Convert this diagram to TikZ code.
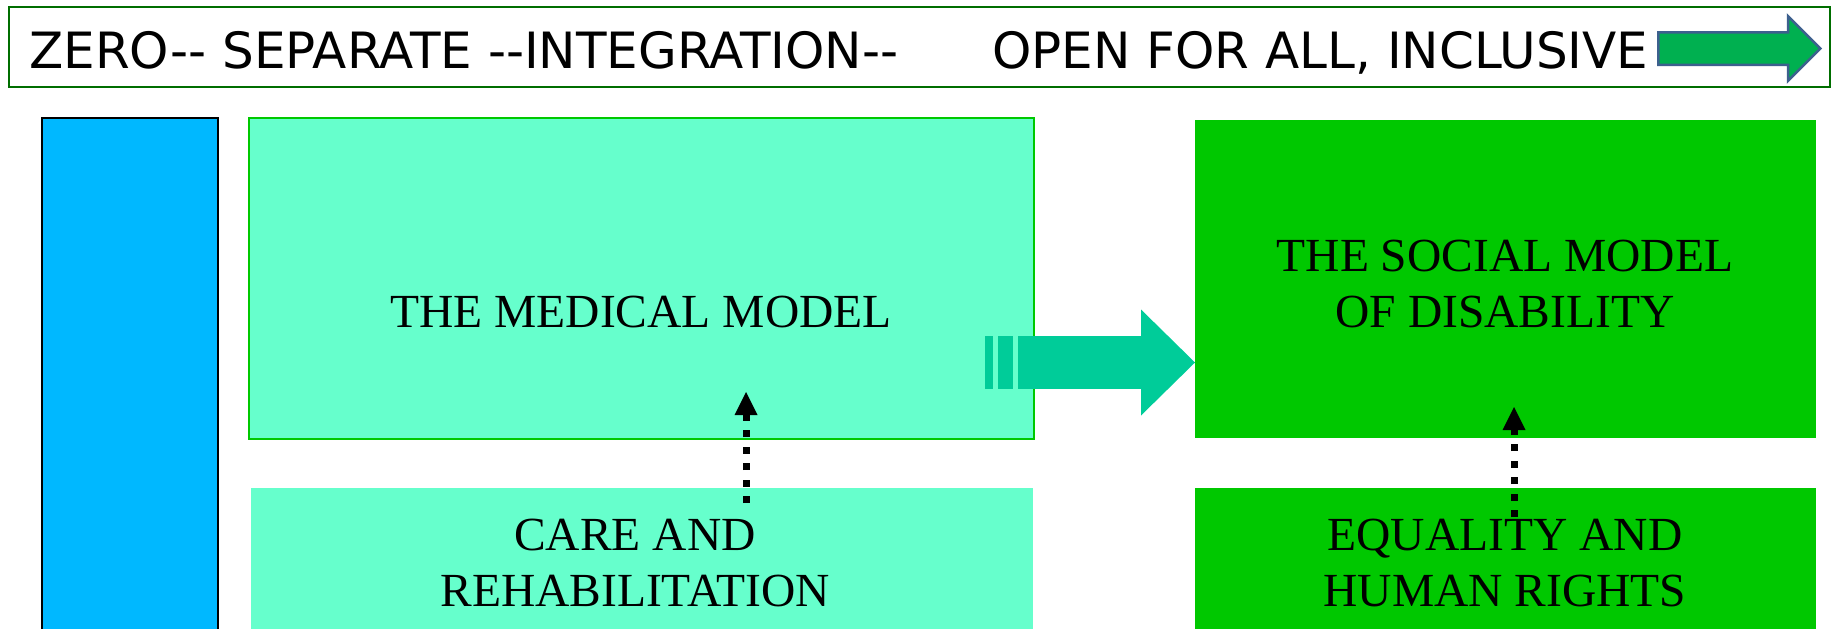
\documentclass[tikz,border=0pt]{standalone}
\usepackage{fontspec}
\setmainfont{Liberation Serif}
\newfontfamily\bannerfont{DejaVu Sans}
\usepackage{tikz}
\usetikzlibrary{arrows.meta,shapes.arrows}
\definecolor{bannergreen}{RGB}{0,110,0}
\definecolor{arrowgreen}{RGB}{0,176,80}
\definecolor{arrowblue}{RGB}{61,96,142}
\definecolor{barblue}{RGB}{0,184,255}
\definecolor{medgreen}{RGB}{102,255,204}
\definecolor{medborder}{RGB}{0,200,0}
\definecolor{socgreen}{RGB}{0,200,0}
\definecolor{flowteal}{RGB}{0,204,153}

\begin{document}
\begin{tikzpicture}[x=1pt, y=-1pt,
  panel/.style={rectangle, inner sep=0pt, outer sep=0pt, anchor=north west},
  model/.style={font=\fontsize{47.5pt}{56pt}\selectfont, align=center, inner sep=0pt, anchor=base},
  bannertext/.style={font=\bannerfont\fontsize{50pt}{60pt}\selectfont, inner sep=0pt, anchor=base west},
  flow/.style={draw=flowteal, line width=53pt, -{Triangle[length=54pt, width=106pt, line width=0pt]}},
  dotarrow/.style={line width=7pt, dash pattern=on 7pt off 9.5pt, -{Triangle[length=23pt, width=23pt, line width=0pt]}}
]
\useasboundingbox (0,0) rectangle (1834,629);

% banner across the top
\node[panel, draw=bannergreen, line width=2.5pt, fill=white, minimum width=1821pt, minimum height=80pt] (banner) at (9,7) {};
\node[bannertext] (stages) at (29,68) {ZERO-{}- SEPARATE -{}-INTEGRATION-{}-};
\node[bannertext] (inclusive) at (992,68) {OPEN FOR ALL, INCLUSIVE};
\node[single arrow, fill=arrowgreen, draw=arrowblue, line width=2.5pt, anchor=west,
  minimum height=162pt, minimum width=62pt, inner sep=15pt,
  single arrow head extend=16pt, single arrow tip angle=90] (forward) at (1657,48.5) {};

% panels
\node[panel, draw=black, line width=2pt, fill=barblue, minimum width=176pt, minimum height=530pt] (bar) at (42,118) {};
\node[panel, draw=medborder, line width=2pt, fill=medgreen, minimum width=785pt, minimum height=321pt] (medical) at (249,118) {};
\node[panel, fill=medgreen, minimum width=782pt, minimum height=150pt] (care) at (251,488) {};
\node[panel, fill=socgreen, minimum width=621pt, minimum height=318pt] (social) at (1195,120) {};
\node[panel, fill=socgreen, minimum width=621pt, minimum height=150pt] (equality) at (1195,488) {};

% texts (base = last line)
\node[model] (medtext) at (641,327) {THE MEDICAL MODEL};
\node[model] (soctext) at (1505,327) {THE SOCIAL MODEL\\OF DISABILITY};
\node[model] (caretext) at (635,606) {CARE AND\\REHABILITATION};
\node[model] (eqtext) at (1505,606) {EQUALITY AND\\HUMAN RIGHTS};

% striped arrow from medical to social model
\fill[flowteal] (985,336) rectangle (993,389);
\fill[flowteal] (998,336) rectangle (1013,389);
\coordinate (flowstart) at (1018,362.5);
\draw[flow] (flowstart) -- (flowstart -| social.west);

% dotted arrows
\coordinate (carefoot) at (746,503);
\coordinate (medtip) at (746,392);
\draw[dotarrow] (carefoot) -- (medtip);
\coordinate (eqfoot) at (1514,517);
\coordinate (soctip) at (1514,407);
\draw[dotarrow] (eqfoot) -- (soctip);
\end{tikzpicture}
\end{document}
